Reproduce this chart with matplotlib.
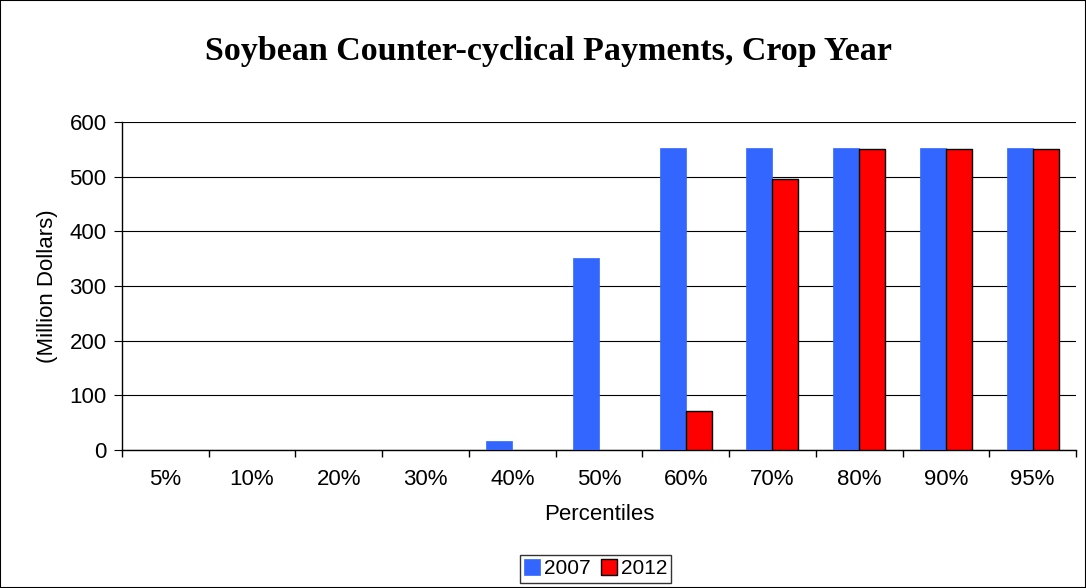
import matplotlib.pyplot as plt
from matplotlib.patches import Rectangle
import numpy as np

# Data
percentiles = ["5%", "10%", "20%", "30%", "40%", "50%", "60%", "70%", "80%", "90%", "95%"]
payments_2007 = [0, 0, 0, 0, 17, 351, 553, 553, 553, 553, 553]
payments_2012 = [0, 0, 0, 0, 0, 0, 72, 495, 550, 550, 550]
series_labels = ["2007", "2012"]

BLUE = "#3366FF"
RED = "#FF0000"

plt.rcParams["font.family"] = ["Liberation Sans", "DejaVu Sans"]

fig = plt.figure(figsize=(10.86, 5.88), dpi=100)
ax = fig.add_axes([0.1123, 0.2347, 0.8785, 0.5578])

# figure border
fig.patches.append(Rectangle((0, 0), 1, 1, transform=fig.transFigure,
                             fill=False, edgecolor="black", linewidth=1.5))

x = np.arange(len(percentiles))
width = 0.3
v07 = np.array(payments_2007, dtype=float)
v12 = np.array(payments_2012, dtype=float)
# empty bars are not drawn in the original (no outline along the axis)
ax.bar(x - width / 2, np.where(v07 > 0, v07, np.nan), width, color=BLUE,
       edgecolor=BLUE, linewidth=0.5, label=series_labels[0], zorder=3)
ax.bar(x + width / 2, np.where(v12 > 0, v12, np.nan), width, color=RED,
       edgecolor="black", linewidth=1.0, label=series_labels[1], zorder=3)

ax.set_xlim(-0.5, len(percentiles) - 0.5)
ax.set_ylim(0, 600)
ax.set_yticks(range(0, 601, 100))
ax.yaxis.grid(True, color="black", linewidth=0.8)
ax.set_axisbelow(True)

# category labels centred, tick marks at category boundaries
ax.set_xticks(x)
ax.set_xticklabels(percentiles, fontsize=16)
ax.tick_params(axis="x", which="major", length=0, pad=14)
ax.set_xticks(np.arange(-0.5, len(percentiles)), minor=True)
ax.tick_params(axis="x", which="minor", length=5, width=1, direction="out")
ax.tick_params(axis="y", labelsize=16, length=6, direction="out", pad=5)

for side in ("top", "right"):
    ax.spines[side].set_visible(False)
ax.spines["left"].set_linewidth(1.0)
ax.spines["bottom"].set_linewidth(1.0)

ax.set_xlabel("Percentiles", fontsize=16, labelpad=10)
ax.set_ylabel("(Million Dollars)", fontsize=16, labelpad=8)

fig.text(0.505, 0.912, "Soybean Counter-cyclical Payments, Crop Year",
         ha="center", va="center", fontsize=24.5, fontweight="bold",
         family=["Liberation Serif", "DejaVu Serif"])

leg = fig.legend(loc="center", bbox_to_anchor=(0.5485, 0.0325), ncol=2,
                 fontsize=15, frameon=True, fancybox=False,
                 handlelength=0.75, handleheight=0.75, handletextpad=0.2,
                 columnspacing=0.5, borderpad=0.2, borderaxespad=0)
leg.get_frame().set_edgecolor("black")
leg.get_frame().set_linewidth(1.0)

fig.savefig("out.png", dpi=100)
